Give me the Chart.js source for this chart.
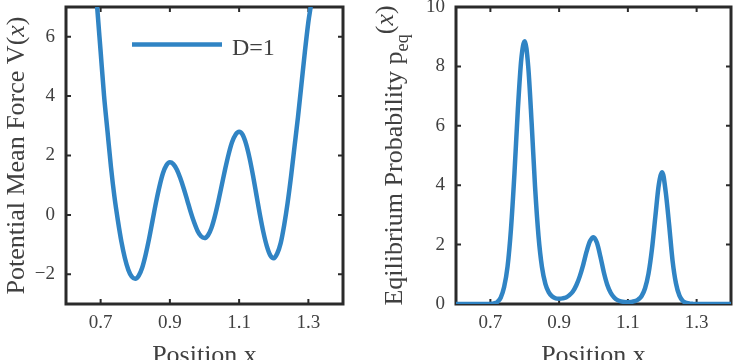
<!DOCTYPE html>
<html>
<head>
<meta charset="utf-8">
<script src="https://cdn.jsdelivr.net/npm/chart.js@4.4.1/dist/chart.umd.min.js"></script>
<style>
    html, body { margin: 0; padding: 0; background: #fff; }
    #wrap { position: relative; width: 733px; height: 360px; overflow: hidden; }
    canvas { position: absolute; top: 0; }
</style>
</head>
<body>
<div id="wrap">
    <canvas id="pmf" width="366" height="360" style="left:0;width:366px;height:360px"></canvas>
    <canvas id="peq" width="367" height="360" style="left:366px;width:367px;height:360px"></canvas>
</div>
<script>
    'use strict';

    // Potential of mean force V(x)
    const pmfX = [
        0.68, 0.69, 0.70, 0.71, 0.72, 0.73, 0.74, 0.75, 0.76, 0.77, 0.78, 0.79,
        0.80, 0.81, 0.82, 0.83, 0.84, 0.85, 0.86, 0.87, 0.88, 0.89,
        0.90, 0.91, 0.92, 0.93, 0.94, 0.95, 0.96, 0.97, 0.98, 0.99,
        1.00, 1.01, 1.02, 1.03, 1.04, 1.05, 1.06, 1.07, 1.08, 1.09,
        1.10, 1.11, 1.12, 1.13, 1.14, 1.15, 1.16, 1.17, 1.18, 1.19,
        1.20, 1.21, 1.22, 1.23, 1.24, 1.25, 1.26, 1.27, 1.28, 1.29,
        1.30, 1.31, 1.32
    ];
    const pmfV = [
        8.6, 7.0, 5.5, 4.0, 2.8, 1.6, 0.6, -0.2, -0.9, -1.45, -1.85, -2.08,
        -2.15, -2.05, -1.78, -1.34, -0.80, -0.19, 0.42, 0.96, 1.40, 1.67,
        1.77, 1.71, 1.53, 1.24, 0.89, 0.50, 0.10, -0.25, -0.54, -0.72,
        -0.78, -0.69, -0.44, -0.04, 0.46, 1.01, 1.56, 2.06, 2.46, 2.71,
        2.80, 2.70, 2.39, 1.92, 1.33, 0.67, 0.01, -0.58, -1.05, -1.36,
        -1.46, -1.30, -0.95, -0.35, 0.40, 1.30, 2.30, 3.30, 4.40, 5.50,
        6.50, 7.30, 8.50
    ];

    // Equilibrium probability p_eq(x)
    const peqX = [
        0.60, 0.65, 0.69, 0.70, 0.71, 0.72, 0.73, 0.74, 0.75, 0.76, 0.77, 0.78, 0.79,
        0.80, 0.81, 0.82, 0.83, 0.84, 0.85, 0.86, 0.87, 0.88, 0.89,
        0.90, 0.91, 0.92, 0.93, 0.94, 0.95, 0.96, 0.97, 0.98, 0.99,
        1.00, 1.01, 1.02, 1.03, 1.04, 1.05, 1.06, 1.07, 1.08, 1.09,
        1.10, 1.11, 1.12, 1.13, 1.14, 1.15, 1.16, 1.17, 1.18, 1.19,
        1.20, 1.21, 1.22, 1.23, 1.24, 1.25, 1.26, 1.27, 1.28, 1.29,
        1.30, 1.35, 1.40
    ];
    const peqP = [
        0, 0, 0, 0.004, 0.019, 0.063, 0.21, 0.57, 1.26, 2.54, 4.39, 6.56, 8.25,
        8.85, 8.01, 6.11, 3.94, 2.29, 1.25, 0.68, 0.39, 0.25, 0.19,
        0.18, 0.19, 0.22, 0.30, 0.42, 0.63, 0.93, 1.32, 1.77, 2.12,
        2.25, 2.06, 1.60, 1.07, 0.65, 0.38, 0.22, 0.13, 0.088, 0.069,
        0.063, 0.069, 0.094, 0.15, 0.27, 0.53, 1.02, 1.84, 2.95, 4.02,
        4.44, 3.78, 2.67, 1.46, 0.69, 0.28, 0.10, 0.038, 0.013, 0.004,
        0, 0, 0
    ];

    const xTicks = [0.7, 0.9, 1.1, 1.3];
    const pmfTicks = [-2, 0, 2, 4, 6];
    const peqTicks = [0, 2, 4, 6, 8, 10];

    const LINE_BLUE = '#3084c4';
    const AXIS_DARK = '#2a2a2a';
    const TEXT_GREY = '#404040';
    const SERIF = '"Liberation Serif", "Times New Roman", serif';

    function toPoints(xs, ys) {
        return xs.map(function (x, i) {
            return { x: x, y: ys[i] };
        });
    }

    function fmtTick(v) {
        return v < 0 ? '\u2212' + Math.abs(v) : String(v);
    }

    function runFont(r, size) {
        const s = size * (r.scale || 1);
        return (r.italic ? 'italic ' : '') + s + 'px ' + SERIF;
    }

    // Draw a run of text pieces (some italic / shifted) starting at (x, y) along the baseline.
    function drawRuns(ctx, runs, size, x, y) {
        let cx = x;
        runs.forEach(function (r) {
            ctx.font = runFont(r, size);
            ctx.fillText(r.text, cx, y + (r.shift || 0));
            cx += ctx.measureText(r.text).width;
        });
    }

    function runsWidth(ctx, runs, size) {
        return runs.reduce(function (w, r) {
            ctx.font = runFont(r, size);
            return w + ctx.measureText(r.text).width;
        }, 0);
    }

    // MATLAB-looking box: full frame, inward ticks on all four sides, titles and a borderless legend.
    // Built per panel so the title runs stay plain objects (not passed through Chart.js option proxies).
    function makeBox(cfg) {
        return {
            id: 'matlabBox',
            beforeDatasetsDraw: function (chart) {
                const ctx = chart.ctx;
                const a = chart.chartArea;
                const sx = chart.scales.x;
                const sy = chart.scales.y;
                ctx.save();
                ctx.strokeStyle = AXIS_DARK;
                ctx.lineWidth = 3;
                ctx.strokeRect(a.left, a.top, a.right - a.left, a.bottom - a.top);
                ctx.lineWidth = 2;
                ctx.beginPath();
                sx.ticks.forEach(function (t) {
                    const px = sx.getPixelForValue(t.value);
                    ctx.moveTo(px, a.bottom);
                    ctx.lineTo(px, a.bottom - 5);
                    ctx.moveTo(px, a.top);
                    ctx.lineTo(px, a.top + 5);
                });
                sy.ticks.forEach(function (t) {
                    const py = sy.getPixelForValue(t.value);
                    ctx.moveTo(a.left, py);
                    ctx.lineTo(a.left + 5, py);
                    ctx.moveTo(a.right, py);
                    ctx.lineTo(a.right - 5, py);
                });
                ctx.stroke();
                ctx.restore();
            },
            afterDraw: function (chart) {
                const ctx = chart.ctx;
                const a = chart.chartArea;
                const size = 26;
                ctx.save();
                ctx.fillStyle = TEXT_GREY;
                ctx.textAlign = 'left';
                ctx.textBaseline = 'alphabetic';

                // x title (runs off the bottom edge, as in the original)
                const xw = runsWidth(ctx, cfg.xTitle, size);
                drawRuns(ctx, cfg.xTitle, size, (a.left + a.right) / 2 - xw / 2, 363);

                // rotated y title
                const yw = runsWidth(ctx, cfg.yTitle, size);
                ctx.save();
                ctx.translate(cfg.yTitleX, (a.top + a.bottom) / 2);
                ctx.rotate(-Math.PI / 2);
                drawRuns(ctx, cfg.yTitle, size, -yw / 2, 0);
                ctx.restore();

                if (cfg.legend) {
                    const ds = chart.data.datasets[0];
                    const lg = cfg.legend;
                    ctx.strokeStyle = ds.borderColor;
                    ctx.lineWidth = ds.borderWidth;
                    ctx.beginPath();
                    ctx.moveTo(a.left + lg.x0, lg.y);
                    ctx.lineTo(a.left + lg.x1, lg.y);
                    ctx.stroke();
                    ctx.fillStyle = TEXT_GREY;
                    ctx.font = '24px ' + SERIF;
                    ctx.fillText(ds.label, a.left + lg.textX, lg.y + 10.5);
                }
                ctx.restore();
            },
        };
    }

    function makePanel(canvasId, cfg) {
        const ctx = document.getElementById(canvasId);
        return new Chart(ctx, {
            type: 'line',
            data: {
                datasets: [{
                    label: cfg.label,
                    data: toPoints(cfg.xs, cfg.ys),
                    borderColor: LINE_BLUE,
                    borderWidth: 4.5,
                    pointRadius: 0,
                    fill: false,
                    cubicInterpolationMode: 'monotone',
                }],
            },
            options: {
                responsive: false,
                animation: false,
                events: [],
                layout: { padding: { top: 7, right: cfg.rightPad, left: 0, bottom: 0 } },
                plugins: {
                    legend: { display: false },
                    tooltip: { enabled: false },
                },
                scales: {
                    x: {
                        type: 'linear',
                        min: 0.6,
                        max: 1.4,
                        afterBuildTicks: function (s) {
                            s.ticks = xTicks.map(function (v) { return { value: v }; });
                        },
                        afterFit: function (s) {
                            s.height = 56;
                            s.paddingLeft = 0;
                            s.paddingRight = 0;
                        },
                        grid: { display: false, drawTicks: false },
                        border: { display: false },
                        ticks: {
                            padding: 8,
                            color: TEXT_GREY,
                            maxRotation: 0,
                            autoSkip: false,
                            font: { family: SERIF, size: 19 },
                            callback: function (v) { return v.toFixed(1); },
                        },
                    },
                    y: {
                        type: 'linear',
                        min: cfg.yMin,
                        max: cfg.yMax,
                        afterBuildTicks: function (s) {
                            s.ticks = cfg.yTicks.map(function (v) { return { value: v }; });
                        },
                        afterFit: function (s) {
                            s.width = cfg.yAxisWidth;
                            s.paddingTop = 0;
                            s.paddingBottom = 0;
                        },
                        grid: { display: false, drawTicks: false },
                        border: { display: false },
                        ticks: {
                            padding: 11,
                            color: TEXT_GREY,
                            autoSkip: false,
                            font: { family: SERIF, size: 19 },
                            callback: fmtTick,
                        },
                    },
                },
            },
            plugins: [makeBox(cfg)],
        });
    }

    makePanel('pmf', {
        label: 'D=1',
        xs: pmfX,
        ys: pmfV,
        yMin: -3,
        yMax: 7,
        yTicks: pmfTicks,
        yAxisWidth: 66,
        rightPad: 23,
        yTitleX: 24,
        xTitle: [{ text: 'Position x' }],
        yTitle: [{ text: 'Potential Mean Force V(' }, { text: 'x', italic: true }, { text: ')' }],
        legend: { x0: 66, x1: 156, textX: 166, y: 44.5 },
    });

    makePanel('peq', {
        label: 'p_eq',
        xs: peqX,
        ys: peqP,
        yMin: 0,
        yMax: 10,
        yTicks: peqTicks,
        yAxisWidth: 90,
        rightPad: 2,
        yTitleX: 36,
        xTitle: [{ text: 'Position x' }],
        yTitle: [
            { text: 'Eqilibrium Probability p' },
            { text: 'eq', scale: 0.7, shift: 6 },
            { text: '(', shift: -9 },
            { text: 'x', italic: true, shift: -9 },
            { text: ')', shift: -9 },
        ],
        legend: null,
    });
</script>
</body>
</html>
